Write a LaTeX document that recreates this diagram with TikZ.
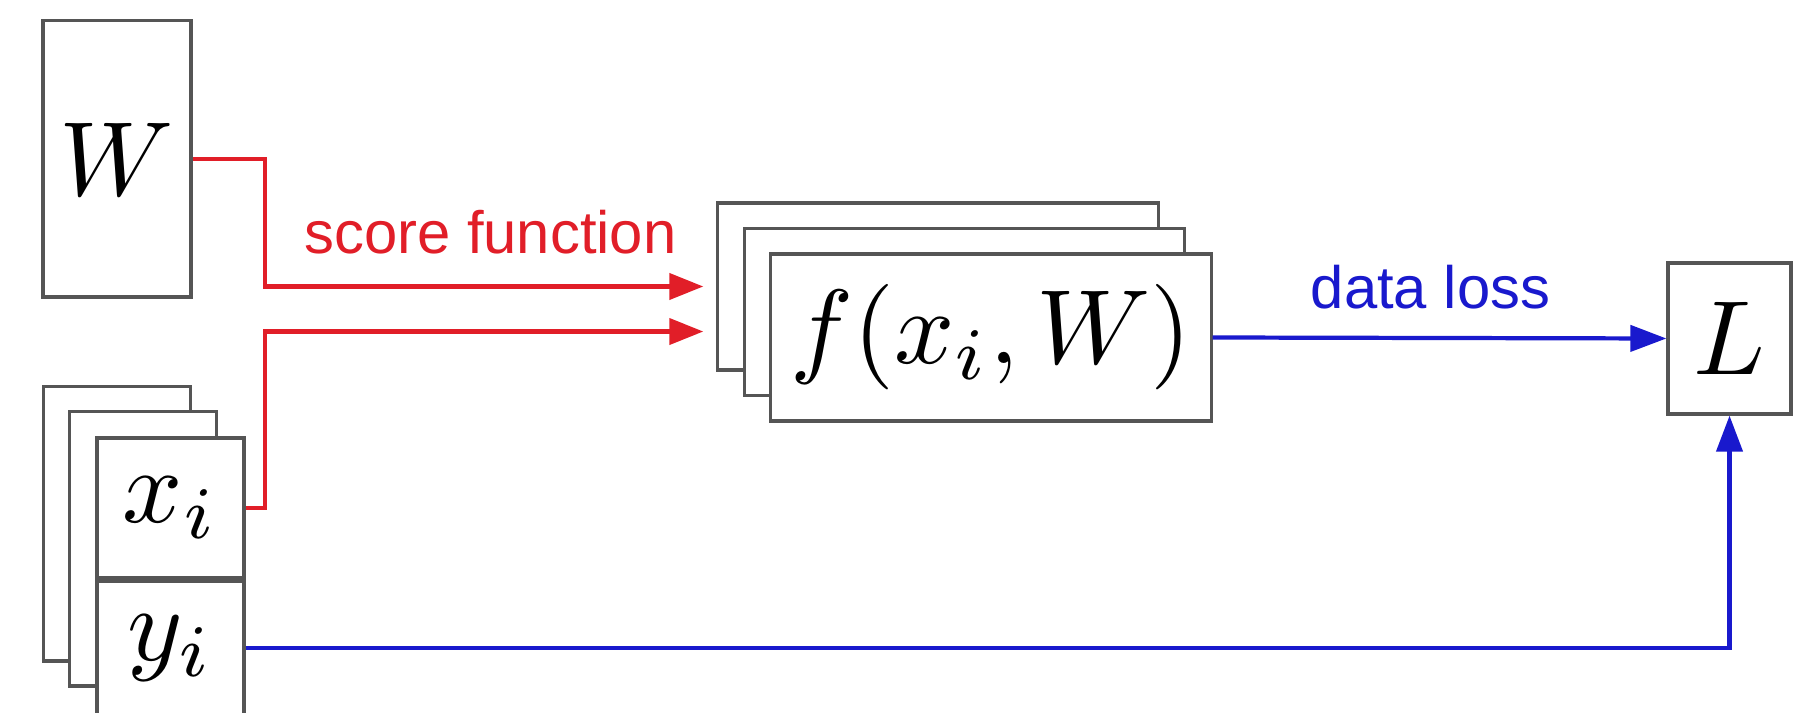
\RequirePackage{fix-cm}
\documentclass[tikz,border=0pt]{standalone}
\usepackage{fontspec}
\usepackage{graphicx}
\usepackage{xcolor}
\usetikzlibrary{arrows.meta, positioning}
\newfontfamily\labelfont{Liberation Sans}
\newcommand\cardmath[1]{\scalebox{3}{\fontsize{10}{12}\selectfont$#1$}}
\definecolor{scorered}{RGB}{225,30,40}
\definecolor{lossblue}{RGB}{25,25,205}
\definecolor{edgegray}{RGB}{85,85,85}
\tikzset{
  card/.style={
    rectangle, draw=edgegray, line width=0.9pt, fill=white,
    inner sep=0pt
  },
  wcard/.style    = {card, minimum width=1.48cm, minimum height=2.76cm},
  datacard/.style = {card, minimum width=1.47cm, minimum height=2.74cm},
  xcard/.style    = {card, minimum width=1.47cm, minimum height=1.40cm},
  ycard/.style    = {card, minimum width=1.47cm, minimum height=1.34cm},
  fcard/.style    = {card, minimum width=4.40cm, minimum height=1.67cm},
  lcard/.style    = {card, minimum width=1.23cm, minimum height=1.51cm},
  tag/.style      = {font=\labelfont\fontsize{17}{20}\selectfont, inner sep=0pt},
  scorearr/.style = {-{Triangle[length=0.34cm, width=0.26cm]}, line width=1.2pt, draw=scorered},
  lossarr/.style  = {-{Triangle[length=0.36cm, width=0.26cm]}, line width=1.2pt, draw=lossblue},
}
\begin{document}
\begin{tikzpicture}[x=0.01cm, y=-0.01cm]
  \useasboundingbox (0,0) rectangle (1794,713);

  % ── weights ────────────────────────────────────────────────────────────────
  \node[wcard] (W) at (117,159) {\cardmath{W}};

  % ── data stack (x_i / y_i) ─────────────────────────────────────────────────
  \node[datacard] (xyback) at (117,524) {};
  \node[datacard] (xymid)  at (143,549) {};
  \node[xcard]    (xi)     at (170.5,508) {\cardmath{x_i}};
  \node[ycard, below=0pt of xi] (yi) {\cardmath{y_i}};

  % ── score function stack ───────────────────────────────────────────────────
  \node[fcard] (fback) at (938,286.5) {};
  \node[fcard] (fmid)  at (964.5,312) {};
  \node[fcard] (f)     at (991,337.5) {\cardmath{f(x_i, W)}};

  % ── loss ───────────────────────────────────────────────────────────────────
  \node[lcard] (L) at (1729.5,338.5) {\cardmath{L}};

  % ── score function arrows ──────────────────────────────────────────────────
  \draw[scorearr, shorten >=0.13cm] (W.east) -- ++(72,0) coordinate (jog)
    |- node[tag, pos=0.75, above=0.3cm, text=scorered] (scorelbl) {score function} (fback.west);
  \coordinate (fin) at ([yshift=-0.45cm]fback.west);
  \draw[scorearr, shorten >=0.13cm] (xi.east) -| (jog |- fin) -- (fin);

  % ── data loss arrows ───────────────────────────────────────────────────────
  \draw[lossarr] (f.east) -- node[tag, pos=0.48, above=0.27cm, text=lossblue] (losslbl) {data loss} (L.west);
  \draw[lossarr] (yi.east) -| (L.south);

\end{tikzpicture}
\end{document}
